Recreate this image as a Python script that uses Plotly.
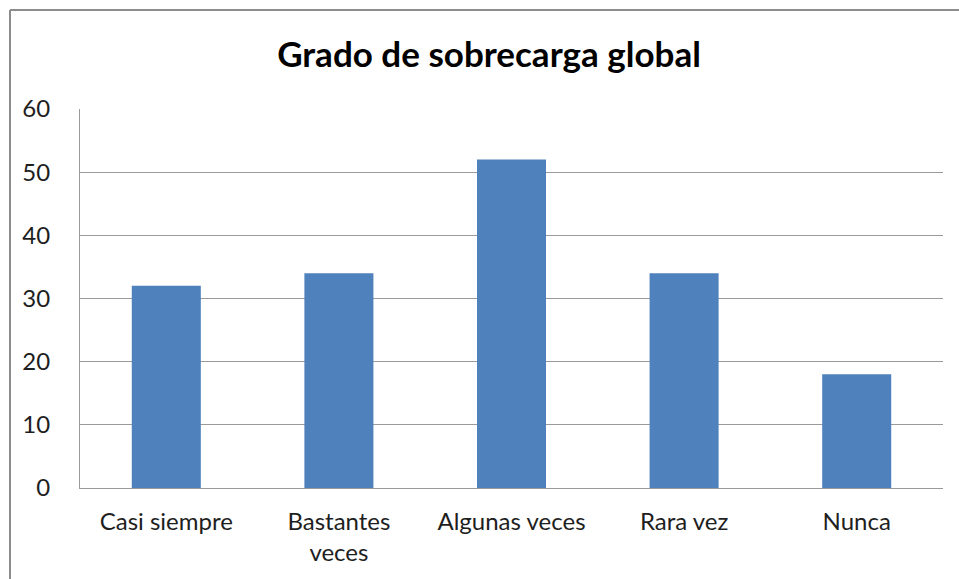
import plotly.graph_objects as go

categories = ["Casi siempre", "Bastantes<br>veces", "Algunas veces", "Rara vez", "Nunca"]
values = [32, 34, 52, 34, 18]
y_ticks = [0, 10, 20, 30, 40, 50, 60]

W, H = 959, 579
L, T = 80, 109
R = W - 943
B = H - 488
pw, ph = W - L - R, H - T - B

fig = go.Figure(go.Bar(x=categories, y=values, marker=dict(color="#4F81BD", line=dict(width=0)), width=0.4))

frame_x = (10 - L) / pw
frame_y = (H - B - 10) / ph
fig.add_shape(type="line", xref="paper", yref="paper", x0=frame_x, x1=frame_x, y0=frame_y, y1=-0.5,
              line=dict(color="#8c8c8c", width=2))
fig.add_shape(type="line", xref="paper", yref="paper", x0=frame_x, x1=1.2, y0=frame_y, y1=frame_y,
              line=dict(color="#8c8c8c", width=2))

fig.update_layout(
    width=W, height=H,
    margin=dict(l=L, r=R, t=T, b=B),
    paper_bgcolor="white", plot_bgcolor="white",
    font=dict(family="Lato, Carlito, sans-serif", color="#1e1e1e", size=24),
    title=dict(text="<b>Grado de sobrecarga global</b>", x=489 / W, xanchor="center",
               y=1 - 55 / H, yanchor="middle", font=dict(size=35, color="black")),
    showlegend=False,
    bargap=0.6,
)
fig.update_yaxes(range=[0, 60], tickvals=y_ticks, showgrid=True, gridcolor="#9a9a9a", gridwidth=1,
                 showline=True, linecolor="#9a9a9a", linewidth=1, ticks="", zeroline=False,
                 ticklabelstandoff=24)
fig.update_xaxes(showline=True, linecolor="#9a9a9a", linewidth=1, ticks="", ticklabelstandoff=12,
                 mirror=False)

fig.write_html("out.html", config={"displayModeBar": False},
               post_script="document.body.style.margin='0';document.body.style.overflow='hidden';")
